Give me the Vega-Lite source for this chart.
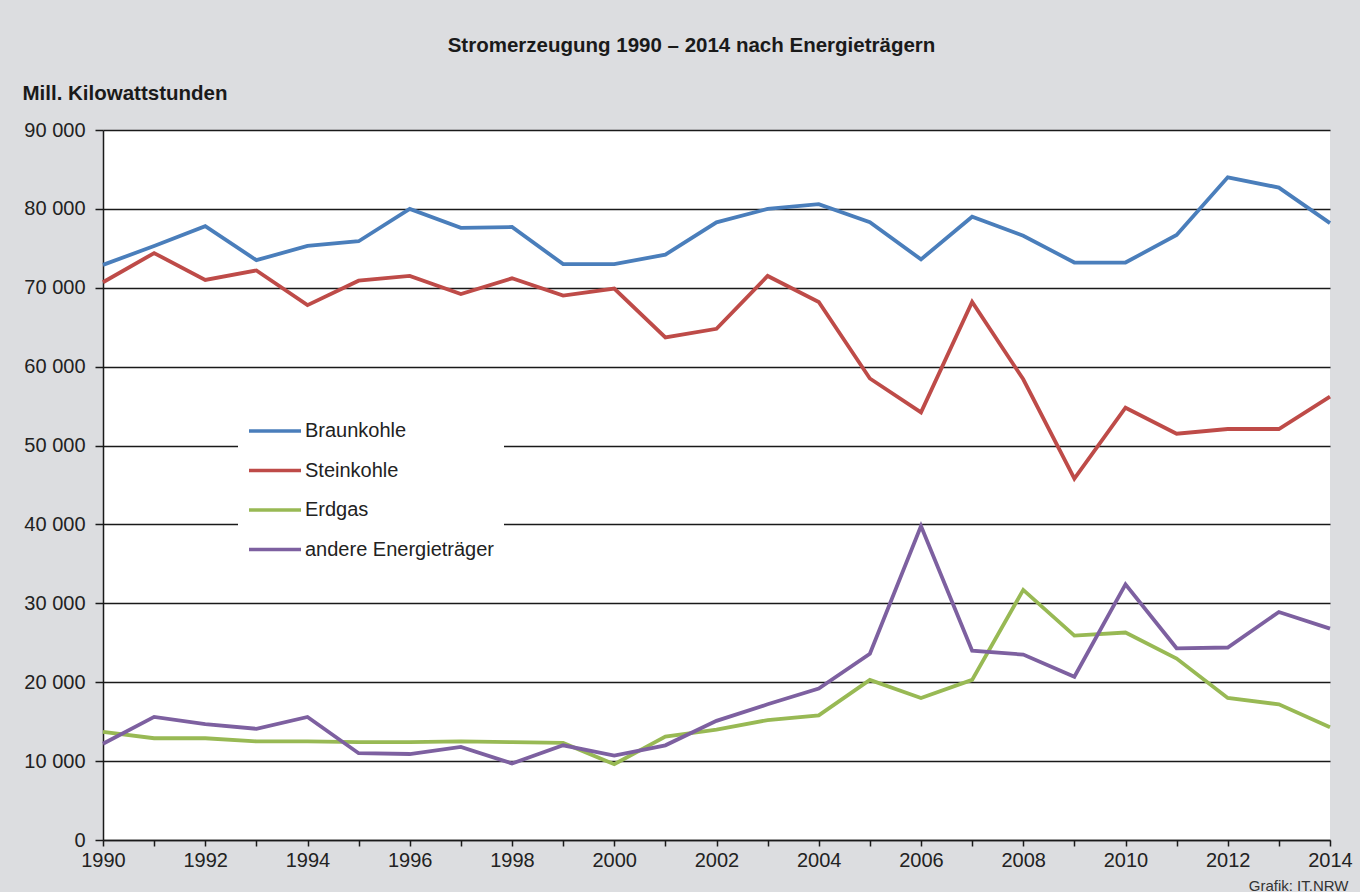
{
  "$schema": "https://vega.github.io/schema/vega-lite/v6.json",
  "width": 1227,
  "height": 710,
  "autosize": {"type": "none"},
  "padding": {"left": 103, "top": 130, "right": 30, "bottom": 52},
  "background": "#dcdde0",
  "title": {
    "text": "Stromerzeugung 1990 – 2014 nach Energieträgern",
    "font": "Liberation Sans",
    "fontSize": 20.5,
    "fontWeight": "bold",
    "color": "#1a1a1a",
    "anchor": "middle",
    "dx": -25,
    "offset": 27
  },
  "datasets": {
    "strom": [
      {"jahr": 1990, "serie": "Braunkohle", "wert": 72900},
      {"jahr": 1991, "serie": "Braunkohle", "wert": 75300},
      {"jahr": 1992, "serie": "Braunkohle", "wert": 77800},
      {"jahr": 1993, "serie": "Braunkohle", "wert": 73500},
      {"jahr": 1994, "serie": "Braunkohle", "wert": 75300},
      {"jahr": 1995, "serie": "Braunkohle", "wert": 75900},
      {"jahr": 1996, "serie": "Braunkohle", "wert": 80000},
      {"jahr": 1997, "serie": "Braunkohle", "wert": 77600},
      {"jahr": 1998, "serie": "Braunkohle", "wert": 77700},
      {"jahr": 1999, "serie": "Braunkohle", "wert": 73000},
      {"jahr": 2000, "serie": "Braunkohle", "wert": 73000},
      {"jahr": 2001, "serie": "Braunkohle", "wert": 74200},
      {"jahr": 2002, "serie": "Braunkohle", "wert": 78300},
      {"jahr": 2003, "serie": "Braunkohle", "wert": 80000},
      {"jahr": 2004, "serie": "Braunkohle", "wert": 80600},
      {"jahr": 2005, "serie": "Braunkohle", "wert": 78300},
      {"jahr": 2006, "serie": "Braunkohle", "wert": 73600},
      {"jahr": 2007, "serie": "Braunkohle", "wert": 79000},
      {"jahr": 2008, "serie": "Braunkohle", "wert": 76600},
      {"jahr": 2009, "serie": "Braunkohle", "wert": 73200},
      {"jahr": 2010, "serie": "Braunkohle", "wert": 73200},
      {"jahr": 2011, "serie": "Braunkohle", "wert": 76700},
      {"jahr": 2012, "serie": "Braunkohle", "wert": 84000},
      {"jahr": 2013, "serie": "Braunkohle", "wert": 82700},
      {"jahr": 2014, "serie": "Braunkohle", "wert": 78200},
      {"jahr": 1990, "serie": "Steinkohle", "wert": 70700},
      {"jahr": 1991, "serie": "Steinkohle", "wert": 74400},
      {"jahr": 1992, "serie": "Steinkohle", "wert": 71000},
      {"jahr": 1993, "serie": "Steinkohle", "wert": 72200},
      {"jahr": 1994, "serie": "Steinkohle", "wert": 67800},
      {"jahr": 1995, "serie": "Steinkohle", "wert": 70900},
      {"jahr": 1996, "serie": "Steinkohle", "wert": 71500},
      {"jahr": 1997, "serie": "Steinkohle", "wert": 69200},
      {"jahr": 1998, "serie": "Steinkohle", "wert": 71200},
      {"jahr": 1999, "serie": "Steinkohle", "wert": 69000},
      {"jahr": 2000, "serie": "Steinkohle", "wert": 69900},
      {"jahr": 2001, "serie": "Steinkohle", "wert": 63700},
      {"jahr": 2002, "serie": "Steinkohle", "wert": 64800},
      {"jahr": 2003, "serie": "Steinkohle", "wert": 71500},
      {"jahr": 2004, "serie": "Steinkohle", "wert": 68200},
      {"jahr": 2005, "serie": "Steinkohle", "wert": 58500},
      {"jahr": 2006, "serie": "Steinkohle", "wert": 54200},
      {"jahr": 2007, "serie": "Steinkohle", "wert": 68200},
      {"jahr": 2008, "serie": "Steinkohle", "wert": 58400},
      {"jahr": 2009, "serie": "Steinkohle", "wert": 45800},
      {"jahr": 2010, "serie": "Steinkohle", "wert": 54800},
      {"jahr": 2011, "serie": "Steinkohle", "wert": 51500},
      {"jahr": 2012, "serie": "Steinkohle", "wert": 52100},
      {"jahr": 2013, "serie": "Steinkohle", "wert": 52100},
      {"jahr": 2014, "serie": "Steinkohle", "wert": 56200},
      {"jahr": 1990, "serie": "Erdgas", "wert": 13700},
      {"jahr": 1991, "serie": "Erdgas", "wert": 12900},
      {"jahr": 1992, "serie": "Erdgas", "wert": 12900},
      {"jahr": 1993, "serie": "Erdgas", "wert": 12500},
      {"jahr": 1994, "serie": "Erdgas", "wert": 12500},
      {"jahr": 1995, "serie": "Erdgas", "wert": 12400},
      {"jahr": 1996, "serie": "Erdgas", "wert": 12400},
      {"jahr": 1997, "serie": "Erdgas", "wert": 12500},
      {"jahr": 1998, "serie": "Erdgas", "wert": 12400},
      {"jahr": 1999, "serie": "Erdgas", "wert": 12300},
      {"jahr": 2000, "serie": "Erdgas", "wert": 9600},
      {"jahr": 2001, "serie": "Erdgas", "wert": 13100},
      {"jahr": 2002, "serie": "Erdgas", "wert": 14000},
      {"jahr": 2003, "serie": "Erdgas", "wert": 15200},
      {"jahr": 2004, "serie": "Erdgas", "wert": 15800},
      {"jahr": 2005, "serie": "Erdgas", "wert": 20300},
      {"jahr": 2006, "serie": "Erdgas", "wert": 18000},
      {"jahr": 2007, "serie": "Erdgas", "wert": 20300},
      {"jahr": 2008, "serie": "Erdgas", "wert": 31700},
      {"jahr": 2009, "serie": "Erdgas", "wert": 25900},
      {"jahr": 2010, "serie": "Erdgas", "wert": 26300},
      {"jahr": 2011, "serie": "Erdgas", "wert": 23000},
      {"jahr": 2012, "serie": "Erdgas", "wert": 18000},
      {"jahr": 2013, "serie": "Erdgas", "wert": 17200},
      {"jahr": 2014, "serie": "Erdgas", "wert": 14300},
      {"jahr": 1990, "serie": "andere Energieträger", "wert": 12200},
      {"jahr": 1991, "serie": "andere Energieträger", "wert": 15600},
      {"jahr": 1992, "serie": "andere Energieträger", "wert": 14700},
      {"jahr": 1993, "serie": "andere Energieträger", "wert": 14100},
      {"jahr": 1994, "serie": "andere Energieträger", "wert": 15600},
      {"jahr": 1995, "serie": "andere Energieträger", "wert": 11000},
      {"jahr": 1996, "serie": "andere Energieträger", "wert": 10900},
      {"jahr": 1997, "serie": "andere Energieträger", "wert": 11800},
      {"jahr": 1998, "serie": "andere Energieträger", "wert": 9700},
      {"jahr": 1999, "serie": "andere Energieträger", "wert": 12000},
      {"jahr": 2000, "serie": "andere Energieträger", "wert": 10700},
      {"jahr": 2001, "serie": "andere Energieträger", "wert": 12000},
      {"jahr": 2002, "serie": "andere Energieträger", "wert": 15100},
      {"jahr": 2003, "serie": "andere Energieträger", "wert": 17200},
      {"jahr": 2004, "serie": "andere Energieträger", "wert": 19200},
      {"jahr": 2005, "serie": "andere Energieträger", "wert": 23600},
      {"jahr": 2006, "serie": "andere Energieträger", "wert": 39800},
      {"jahr": 2007, "serie": "andere Energieträger", "wert": 24000},
      {"jahr": 2008, "serie": "andere Energieträger", "wert": 23500},
      {"jahr": 2009, "serie": "andere Energieträger", "wert": 20700},
      {"jahr": 2010, "serie": "andere Energieträger", "wert": 32400},
      {"jahr": 2011, "serie": "andere Energieträger", "wert": 24300},
      {"jahr": 2012, "serie": "andere Energieträger", "wert": 24400},
      {"jahr": 2013, "serie": "andere Energieträger", "wert": 28900},
      {"jahr": 2014, "serie": "andere Energieträger", "wert": 26800}
    ]
  },
  "data": {"name": "strom"},
  "mark": {"type": "line", "strokeWidth": 3.8, "strokeJoin": "miter", "clip": false},
  "encoding": {
    "x": {
      "field": "jahr",
      "type": "quantitative",
      "scale": {"domain": [1990, 2014], "nice": false, "zero": false},
      "axis": {
        "values": [1990, 1991, 1992, 1993, 1994, 1995, 1996, 1997, 1998, 1999, 2000, 2001, 2002, 2003, 2004, 2005, 2006, 2007, 2008, 2009, 2010, 2011, 2012, 2013, 2014],
        "labelExpr": "datum.value % 2 == 0 ? format(datum.value, 'd') : ''",
        "grid": false,
        "domainColor": "#1a1a1a",
        "domainWidth": 1.5,
        "tickColor": "#1a1a1a",
        "tickWidth": 1.5,
        "tickSize": 6,
        "labelPadding": 4,
        "labelFont": "Liberation Sans",
        "labelFontSize": 20,
        "labelColor": "#222222",
        "labelFlush": false,
        "labelOverlap": false,
        "title": "Grafik: IT.NRW",
        "titleFont": "Liberation Sans",
        "titleFontSize": 15,
        "titleFontWeight": "normal",
        "titleColor": "#333333",
        "titleAlign": "right",
        "titleAnchor": null,
        "titleX": 1245,
        "titleY": 50,
        "titleBaseline": "alphabetic"
      }
    },
    "y": {
      "field": "wert",
      "type": "quantitative",
      "scale": {"domain": [0, 90000], "nice": false},
      "axis": {
        "values": [0, 10000, 20000, 30000, 40000, 50000, 60000, 70000, 80000, 90000],
        "labelExpr": "replace(format(datum.value, ','), ',', ' ')",
        "grid": true,
        "gridColor": "#1a1a1a",
        "gridWidth": 1.5,
        "domainColor": "#1a1a1a",
        "domainWidth": 1.5,
        "tickColor": "#1a1a1a",
        "tickWidth": 1.5,
        "tickSize": 8,
        "labelPadding": 10,
        "labelFont": "Liberation Sans",
        "labelFontSize": 20,
        "labelColor": "#222222",
        "title": "Mill. Kilowattstunden",
        "titleFont": "Liberation Sans",
        "titleFontSize": 20.5,
        "titleFontWeight": "bold",
        "titleColor": "#1a1a1a",
        "titleAngle": 0,
        "titleAlign": "left",
        "titleAnchor": null,
        "titleX": -81,
        "titleY": -37,
        "titleBaseline": "middle"
      }
    },
    "color": {
      "field": "serie",
      "type": "nominal",
      "sort": ["Braunkohle", "Steinkohle", "Erdgas", "andere Energieträger"],
      "scale": {
        "domain": ["Braunkohle", "Steinkohle", "Erdgas", "andere Energieträger"],
        "range": ["#4a7ebb", "#be4b48", "#98b954", "#7d60a0"]
      },
      "legend": {
        "orient": "none",
        "legendX": 135,
        "legendY": 264,
        "title": null,
        "fillColor": "white",
        "padding": 9,
        "symbolType": "stroke",
        "symbolSize": 2704,
        "symbolStrokeWidth": 3.5,
        "labelOffset": 2,
        "labelFont": "Liberation Sans",
        "labelFontSize": 20,
        "labelColor": "#222222",
        "rowPadding": 1.5,
        "labelLimit": 400
      }
    }
  },
  "config": {
    "view": {"fill": "white", "stroke": null}
  }
}
